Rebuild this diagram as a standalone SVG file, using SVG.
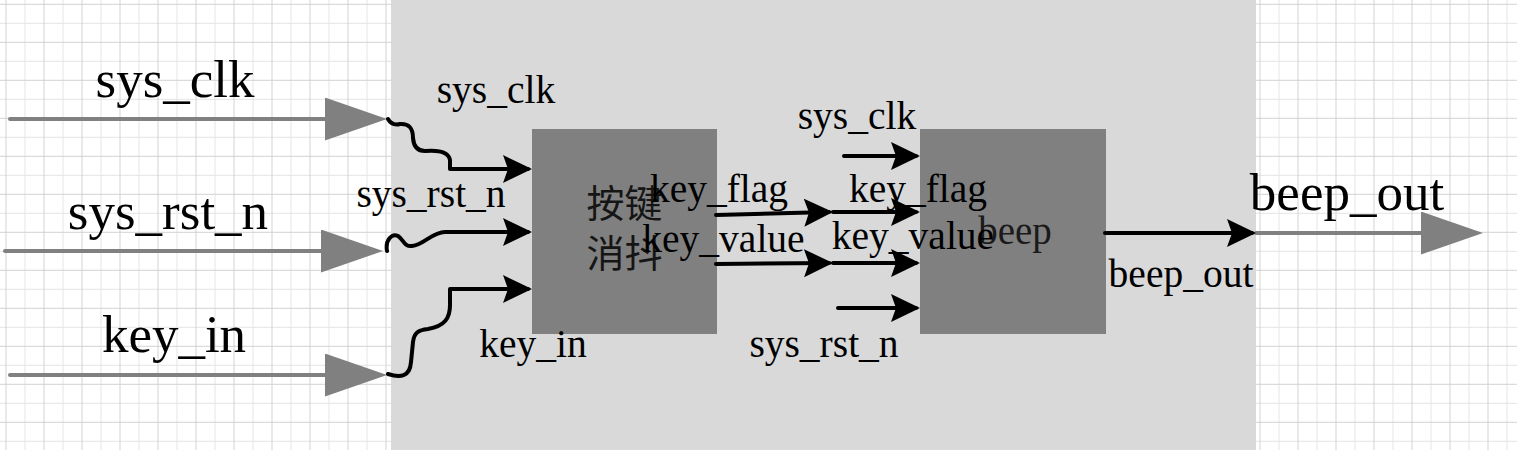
<svg xmlns="http://www.w3.org/2000/svg" width="1517" height="450" viewBox="0 0 1517 450">
<style>
.big{font-family:"Liberation Serif","Times New Roman",serif;font-size:53px;fill:#000;text-anchor:middle}
.sm{font-family:"Liberation Serif","Times New Roman",serif;font-size:39.5px;fill:#000;text-anchor:middle}
.cjk{font-family:"Liberation Serif","Noto Sans CJK SC",sans-serif;font-size:38px;fill:#151515;text-anchor:middle}
.blk{fill:#808080}
.wire{fill:none;stroke:#000;stroke-width:4;stroke-linecap:round;stroke-linejoin:round}
.gwire{fill:none;stroke:#808080;stroke-width:4;stroke-linecap:round}
</style>
<defs>
<pattern id="grid" x="5.5" y="3.8" width="38" height="38" patternUnits="userSpaceOnUse">
<path d="M19.5,0V38M0,19.5H38" stroke="#e4e4e4" stroke-width="1" fill="none"/>
<path d="M0.5,0V38M0,0.5H38" stroke="#d2d2d2" stroke-width="1" fill="none"/>
</pattern>
<marker id="ah" markerUnits="userSpaceOnUse" markerWidth="30" markerHeight="30" refX="25" refY="14" orient="auto">
<path d="M0,0L29,14L0,28L5,14Z" fill="#000"/>
</marker>
<marker id="gh" markerUnits="userSpaceOnUse" markerWidth="64" markerHeight="44" refX="52" refY="21.5" orient="auto">
<path d="M0,0L62,21.5L0,43Z" fill="#808080"/>
</marker>
</defs>
<rect width="1517" height="450" fill="#fff"/>
<rect width="1517" height="450" fill="url(#grid)"/>
<g id="system-region">
<rect x="391" y="0" width="865" height="450" fill="#d9d9d9"/>
</g>
<g id="key-filter">
<rect class="blk" x="532" y="129" width="185" height="205"/>
<text class="cjk" x="624.5" y="217">按键</text>
<text class="cjk" x="624.5" y="267">消抖</text>
</g>
<g id="beep">
<rect class="blk" x="920" y="129" width="186" height="205"/>
<text x="1015" y="243.5" style="font-family:'Liberation Serif',serif;font-size:39px;fill:#1a1a1a;text-anchor:middle">beep</text>
</g>
<g id="connectors">
<path class="gwire" d="M10,119H377" marker-end="url(#gh)"/>
<path class="gwire" d="M5,251H373" marker-end="url(#gh)"/>
<path class="gwire" d="M10,375H377" marker-end="url(#gh)"/>
<path class="gwire" d="M1256,233H1473" marker-end="url(#gh)"/>
<path class="wire" d="M388,119Q392,126 400,124Q413,123 413,138Q414,151 425,151Q448,149 450,160L450,169L528,169" marker-end="url(#ah)"/>
<path class="wire" d="M387,251C385,240 392,233 398,236C404,240 404,247 412,246C424,245 432,232 445,232L528,232" marker-end="url(#ah)"/>
<path class="wire" d="M388,374C400,378 410,377 411,362L413,342C414,333 418,330 428,329C445,326 450,318 450,305L450,289L528,289" marker-end="url(#ah)"/>
<path class="wire" d="M716,215L829,212" marker-end="url(#ah)"/>
<path class="wire" d="M833,212L916,212" marker-end="url(#ah)"/>
<path class="wire" d="M716,264L829,263" marker-end="url(#ah)"/>
<path class="wire" d="M833,263L916,263" marker-end="url(#ah)"/>
<path class="wire" d="M844,156L916,156" marker-end="url(#ah)"/>
<path class="wire" d="M838,308L916,308" marker-end="url(#ah)"/>
<path class="wire" d="M1105,233L1252,233" marker-end="url(#ah)"/>
</g>
<g id="labels">
<text class="big" x="175" y="97">sys_clk</text>
<text class="big" x="168" y="229">sys_rst_n</text>
<text class="big" x="174" y="352">key_in</text>
<text class="big" x="1347" y="210">beep_out</text>
<text class="sm" x="496" y="102.5">sys_clk</text>
<text class="sm" x="431" y="206.5">sys_rst_n</text>
<text class="sm" x="533" y="357">key_in</text>
<text class="sm" x="719" y="202">key_flag</text>
<text class="sm" x="723.5" y="252">key_value</text>
<text class="sm" x="918" y="201.5">key_flag</text>
<text class="sm" x="913" y="248.5">key_value</text>
<text class="sm" x="857" y="129">sys_clk</text>
<text class="sm" x="824" y="356.5">sys_rst_n</text>
<text class="sm" x="1181" y="286.5">beep_out</text>
</g>
</svg>
